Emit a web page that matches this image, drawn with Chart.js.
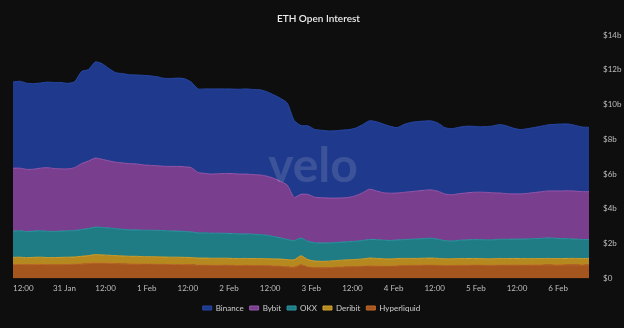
<!DOCTYPE html>
<html>
<head>
<meta charset="utf-8">
<script src="https://cdn.jsdelivr.net/npm/chart.js@4.4.1/dist/chart.umd.min.js"></script>
<style>
  html, body { margin: 0; padding: 0; background: #0e0e0e; }
  #wrap { width: 624px; height: 328px; }
</style>
</head>
<body>
<div id="wrap"><canvas id="oiChart" width="624" height="328"></canvas></div>
<script>
// hours since 30 Jan 00:00, one point every 2 hours (30 Jan 09:00 .. 6 Feb 09:00)
const hours = [];
for (let h = 9; h <= 177; h += 2) hours.push(h);

const tickHours = [12, 24, 36, 48, 60, 72, 84, 96, 108, 120, 132, 144, 156, 168];
const tickLabels = ['12:00', '31 Jan', '12:00', '1 Feb', '12:00', '2 Feb', '12:00', '3 Feb',
                    '12:00', '4 Feb', '12:00', '5 Feb', '12:00', '6 Feb'];

// open interest in $b
const hyperliquid = [
  0.79, 0.80, 0.78, 0.79, 0.80, 0.79, 0.78, 0.79, 0.80, 0.81,
  0.83, 0.85, 0.88, 0.87, 0.86, 0.85, 0.84, 0.83, 0.83, 0.82,
  0.82, 0.81, 0.81, 0.80, 0.80, 0.79, 0.78, 0.76, 0.76, 0.75,
  0.75, 0.76, 0.75, 0.74, 0.75, 0.74, 0.74, 0.73, 0.72, 0.70,
  0.67, 0.64, 0.78, 0.66, 0.62, 0.61, 0.62, 0.64, 0.66, 0.67,
  0.68, 0.70, 0.72, 0.71, 0.70, 0.70, 0.72, 0.74, 0.75, 0.75,
  0.76, 0.76, 0.75, 0.74, 0.74, 0.75, 0.75, 0.76, 0.76, 0.75,
  0.75, 0.76, 0.76, 0.77, 0.76, 0.76, 0.77, 0.77, 0.78, 0.77,
  0.77, 0.78, 0.78, 0.77, 0.78
];
const deribit = [
  0.42, 0.42, 0.41, 0.42, 0.42, 0.41, 0.42, 0.42, 0.42, 0.42,
  0.44, 0.46, 0.49, 0.48, 0.47, 0.46, 0.45, 0.44, 0.44, 0.43,
  0.43, 0.43, 0.42, 0.42, 0.42, 0.42, 0.42, 0.41, 0.41, 0.41,
  0.41, 0.40, 0.40, 0.40, 0.40, 0.40, 0.40, 0.40, 0.40, 0.41,
  0.41, 0.43, 0.52, 0.42, 0.38, 0.37, 0.37, 0.38, 0.39, 0.40,
  0.41, 0.42, 0.45, 0.44, 0.43, 0.42, 0.42, 0.41, 0.40, 0.40,
  0.40, 0.41, 0.40, 0.39, 0.39, 0.39, 0.39, 0.39, 0.38, 0.38,
  0.38, 0.39, 0.38, 0.38, 0.38, 0.38, 0.37, 0.37, 0.37, 0.37,
  0.37, 0.37, 0.37, 0.37, 0.37
];
const okx = [
  1.51, 1.52, 1.50, 1.51, 1.52, 1.51, 1.50, 1.51, 1.52, 1.52,
  1.54, 1.56, 1.58, 1.58, 1.57, 1.55, 1.53, 1.52, 1.52, 1.52,
  1.52, 1.52, 1.52, 1.51, 1.50, 1.49, 1.47, 1.45, 1.45, 1.44,
  1.44, 1.43, 1.43, 1.42, 1.41, 1.40, 1.38, 1.35, 1.29, 1.22,
  1.16, 1.10, 1.02, 1.05, 1.05, 1.06, 1.05, 1.04, 1.04, 1.04,
  1.05, 1.06, 1.07, 1.08, 1.07, 1.06, 1.07, 1.08, 1.10, 1.12,
  1.13, 1.14, 1.10, 1.04, 1.02, 1.05, 1.07, 1.08, 1.09, 1.09,
  1.09, 1.10, 1.11, 1.11, 1.12, 1.13, 1.15, 1.16, 1.18, 1.17,
  1.15, 1.13, 1.11, 1.10, 1.09
];
const bybit = [
  3.62, 3.60, 3.58, 3.56, 3.60, 3.66, 3.62, 3.58, 3.56, 3.62,
  3.79, 3.88, 3.97, 3.92, 3.86, 3.82, 3.82, 3.81, 3.79, 3.76,
  3.73, 3.72, 3.70, 3.71, 3.72, 3.72, 3.70, 3.47, 3.42, 3.40,
  3.42, 3.44, 3.45, 3.44, 3.44, 3.43, 3.43, 3.40, 3.35, 3.25,
  3.12, 2.49, 2.52, 2.70, 2.62, 2.60, 2.58, 2.56, 2.54, 2.55,
  2.62, 2.75, 2.89, 2.80, 2.73, 2.72, 2.70, 2.72, 2.74, 2.76,
  2.78, 2.78, 2.76, 2.68, 2.66, 2.68, 2.70, 2.72, 2.73, 2.73,
  2.70, 2.66, 2.62, 2.60, 2.60, 2.62, 2.65, 2.68, 2.70, 2.72,
  2.74, 2.76, 2.76, 2.75, 2.75
];
const binance = [
  4.96, 5.00, 4.96, 4.92, 4.90, 4.92, 4.95, 4.97, 4.92, 4.95,
  5.30, 5.26, 5.53, 5.50, 5.31, 5.15, 5.14, 5.11, 5.12, 5.15,
  5.15, 5.12, 5.06, 5.06, 5.08, 5.07, 4.92, 4.81, 4.86, 4.90,
  4.88, 4.87, 4.86, 4.88, 4.90, 4.90, 4.90, 4.86, 4.80, 4.78,
  4.72, 4.43, 3.95, 3.95, 3.90, 3.88, 3.86, 3.87, 3.90, 3.90,
  3.89, 3.92, 3.94, 3.98, 3.95, 3.85, 3.76, 3.90, 3.98, 3.99,
  3.98, 3.97, 3.92, 3.82, 3.80, 3.82, 3.84, 3.80, 3.76, 3.78,
  3.85, 3.94, 3.90, 3.78, 3.70, 3.72, 3.74, 3.77, 3.80, 3.83,
  3.85, 3.84, 3.78, 3.72, 3.70
];

const FONT = 'Lato, "Noto Sans", sans-serif';

// faint "velo" watermark over the areas
const watermark = {
  id: 'watermark',
  afterDatasetsDraw(chart) {
    const { ctx, chartArea } = chart;
    ctx.save();
    ctx.font = '700 48px ' + FONT;
    ctx.fillStyle = 'rgba(255,255,255,0.13)';
    ctx.textAlign = 'center';
    ctx.textBaseline = 'alphabetic';
    ctx.fillText('velo', (chartArea.left + chartArea.right) / 2 + 12, 182);
    ctx.restore();
  }
};

// centre the legend on the page rather than on the padded box
const legendShift = {
  id: 'legendShift',
  afterLayout(chart) {
    if (chart.legend) {
      chart.legend.left -= 7;
      chart.legend.right -= 7;
    }
  }
};

function area(label, data, fill, line, first) {
  return {
    label: label,
    data: data,
    backgroundColor: fill,
    borderColor: line,
    borderWidth: 1,
    fill: first ? 'origin' : '-1',
    pointRadius: 0,
    tension: 0.2
  };
}

new Chart(document.getElementById('oiChart'), {
  type: 'line',
  data: {
    labels: hours,
    datasets: [
      area('Hyperliquid', hyperliquid, '#a5561f', '#c0692b', true),
      area('Deribit', deribit, '#b5891f', '#cfa232'),
      area('OKX', okx, '#1f7c85', '#2c98a2'),
      area('Bybit', bybit, '#793e8e', '#9659ae'),
      area('Binance', binance, '#1f3a8c', '#2847a3')
    ]
  },
  options: {
    responsive: false,
    animation: false,
    layout: { padding: { left: 13, right: 0, top: 0, bottom: 6 } },
    scales: {
      x: {
        type: 'linear',
        min: 9,
        max: 177,
        grid: { display: false, drawTicks: false },
        border: { display: false },
        afterBuildTicks: s => { s.ticks = tickHours.map(v => ({ value: v })); },
        ticks: {
          autoSkip: false,
          maxRotation: 0,
          padding: 5,
          color: '#bdbdbd',
          font: { family: FONT, size: 8 },
          callback: v => tickLabels[tickHours.indexOf(v)]
        }
      },
      y: {
        position: 'right',
        stacked: true,
        min: 0,
        max: 14,
        grid: { display: false, drawTicks: false },
        border: { display: false },
        afterFit: s => { s.width = 35; },
        ticks: {
          stepSize: 2,
          padding: 14,
          color: '#bdbdbd',
          font: { family: FONT, size: 8 },
          callback: v => v === 0 ? '$0' : '$' + v + 'b'
        }
      }
    },
    plugins: {
      title: {
        display: true,
        text: 'ETH Open Interest',
        color: '#ececec',
        font: { family: FONT, size: 10, weight: '600' },
        padding: { top: 13, bottom: 10 }
      },
      legend: {
        position: 'bottom',
        reverse: true,
        labels: {
          color: '#cfcfcf',
          boxWidth: 9,
          boxHeight: 4,
          padding: 6,
          font: { family: FONT, size: 8 }
        }
      },
      tooltip: { enabled: false }
    }
  },
  plugins: [watermark, legendShift]
});
</script>
</body>
</html>
